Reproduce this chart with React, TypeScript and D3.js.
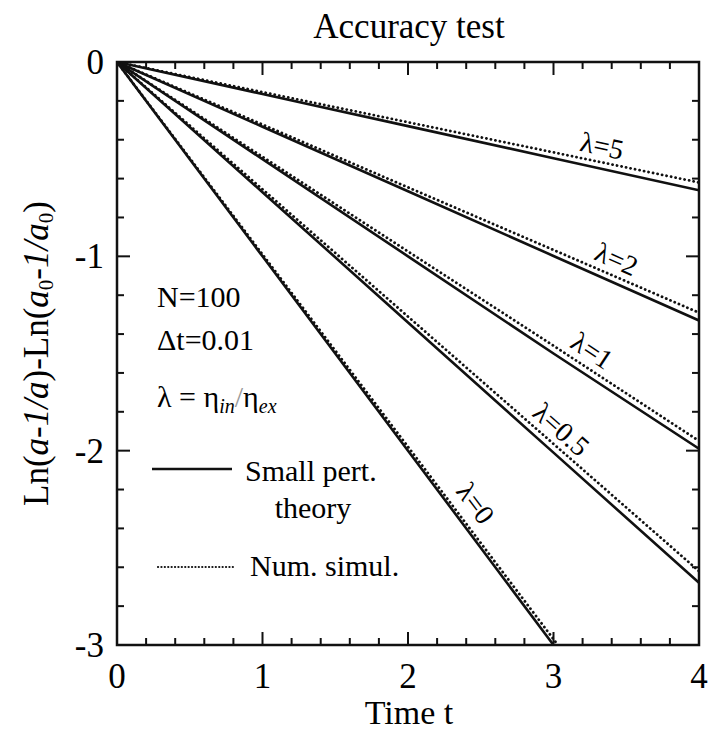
import React from "react";
import * as d3 from "d3";

// values
const lambdaLabels = ["λ=5", "λ=2", "λ=1", "λ=0.5", "λ=0"];
const timeT = [0, 1, 2, 3, 4];
const timeT0 = [0, 1, 2, 3];
const timeT0sim = [0, 1, 2, 3, 3.03];

const theory5 = [0, -0.165, -0.33, -0.495, -0.66];
const theory2 = [0, -0.333, -0.665, -0.998, -1.33];
const theory1 = [0, -0.5, -1.0, -1.5, -1.99];
const theory05 = [0, -0.67, -1.34, -2.01, -2.68];
const theory0 = [0, -1.0, -2.0, -3.0];

const simul5 = [0, -0.155, -0.31, -0.465, -0.62];
const simul2 = [0, -0.322, -0.645, -0.967, -1.29];
const simul1 = [0, -0.488, -0.975, -1.46, -1.95];
const simul05 = [0, -0.655, -1.31, -1.965, -2.62];
const simul0 = [0, -0.99, -1.98, -2.97, -3.0];

const labelT = [3.3, 3.37, 3.18, 2.95, 2.34];

const xTicks = [0, 1, 2, 3, 4];
const yTicks = [0, -1, -2, -3];

const FONT = "'Liberation Serif', 'Times New Roman', serif";

const left = 117;
const right = 699;
const top = 62;
const bottom = 645;

const x = d3.scaleLinear().domain([0, 4]).range([left, right]);
const y = d3.scaleLinear().domain([0, -3]).range([top, bottom]);

const line = d3
  .line<[number, number]>()
  .x((d) => x(d[0]))
  .y((d) => y(d[1]));

const zip = (t: number[], v: number[]) => t.map((tt, i) => [tt, v[i]] as [number, number]);

const theory = [
  zip(timeT, theory5),
  zip(timeT, theory2),
  zip(timeT, theory1),
  zip(timeT, theory05),
  zip(timeT0, theory0),
];
const simul = [
  zip(timeT, simul5),
  zip(timeT, simul2),
  zip(timeT, simul1),
  zip(timeT, simul05),
  zip(timeT0sim, simul0),
];

const minorX = d3.range(0, 4.001, 0.2).filter((v) => Math.abs(v - Math.round(v)) > 1e-6);
const minorY = d3.range(0, -3.001, -0.2).filter((v) => Math.abs(v - Math.round(v)) > 1e-6);

export default function App() {
  const major = 13;
  const minor = 7;

  return (
    <svg
      width={708}
      height={736}
      style={{ position: "absolute", left: 0, top: 0, background: "#fff" }}
      fontFamily={FONT}
    >
      <defs>
        <clipPath id="plot">
          <rect x={left} y={top} width={right - left} height={bottom - top} />
        </clipPath>
      </defs>
      <rect width={708} height={736} fill="#fff" />

      <text x={409} y={38} textAnchor="middle" fontSize={35}>
        Accuracy test
      </text>

      {/* ticks, inward on all sides */}
      <g stroke="#111" strokeWidth={2}>
        {xTicks.map((t) => (
          <g key={"xt" + t}>
            <line x1={x(t)} x2={x(t)} y1={bottom} y2={bottom - major} />
            <line x1={x(t)} x2={x(t)} y1={top} y2={top + major} />
          </g>
        ))}
        {minorX.map((t) => (
          <g key={"xm" + t}>
            <line x1={x(t)} x2={x(t)} y1={bottom} y2={bottom - minor} />
            <line x1={x(t)} x2={x(t)} y1={top} y2={top + minor} />
          </g>
        ))}
        {yTicks.map((v) => (
          <g key={"yt" + v}>
            <line x1={left} x2={left + major} y1={y(v)} y2={y(v)} />
            <line x1={right} x2={right - major} y1={y(v)} y2={y(v)} />
          </g>
        ))}
        {minorY.map((v) => (
          <g key={"ym" + v}>
            <line x1={left} x2={left + minor} y1={y(v)} y2={y(v)} />
            <line x1={right} x2={right - minor} y1={y(v)} y2={y(v)} />
          </g>
        ))}
      </g>

      <rect
        x={left}
        y={top}
        width={right - left}
        height={bottom - top}
        fill="none"
        stroke="#111"
        strokeWidth={2.5}
      />

      {/* tick labels */}
      {xTicks.map((t) => (
        <text key={"xl" + t} x={x(t)} y={688} textAnchor="middle" fontSize={35}>
          {t}
        </text>
      ))}
      {yTicks.map((v) => (
        <text key={"yl" + v} x={left - 13} y={y(v) + 12} textAnchor="end" fontSize={35}>
          {v === 0 ? "0" : "-" + Math.abs(v)}
        </text>
      ))}

      <text x={409} y={724} textAnchor="middle" fontSize={34}>
        Time t
      </text>

      <text transform={`translate(48,${(top + bottom) / 2}) rotate(-90)`} textAnchor="middle" fontSize={35}>
        Ln(<tspan fontStyle="italic">a</tspan>-<tspan fontStyle="italic">1/a</tspan>)-Ln(
        <tspan fontStyle="italic">a</tspan>
        <tspan fontSize={21} dy={5}>0</tspan>
        <tspan dy={-5}>-</tspan>
        <tspan fontStyle="italic">1/a</tspan>
        <tspan fontSize={21} dy={5}>0</tspan>
        <tspan dy={-5}>)</tspan>
      </text>

      {/* data lines */}
      <g clipPath="url(#plot)" fill="none">
        {simul.map((s, i) => (
          <path
            key={"s" + i}
            d={line(s) || ""}
            stroke="#111"
            strokeWidth={2.8}
            strokeDasharray="0.1 4.5"
            strokeLinecap="round"
          />
        ))}
        {theory.map((s, i) => (
          <path key={"t" + i} d={line(s) || ""} stroke="#111" strokeWidth={2.6} />
        ))}
      </g>

      {/* curve labels */}
      {theory.map((s, i) => {
        const a = s[0];
        const b = s[s.length - 1];
        const ang = (Math.atan2(y(b[1]) - y(a[1]), x(b[0]) - x(a[0])) * 180) / Math.PI;
        const slope = (b[1] - a[1]) / (b[0] - a[0]);
        const tx = x(labelT[i]);
        const ty = y(slope * labelT[i]);
        return (
          <text
            key={"lab" + i}
            transform={`translate(${tx},${ty}) rotate(${ang}) translate(0,-13)`}
            textAnchor="middle"
            fontSize={28}
          >
            {lambdaLabels[i]}
          </text>
        );
      })}

      {/* parameters */}
      <g fontSize={30}>
        <text x={157} y={307}>N=100</text>
        <text x={157} y={350}>Δt=0.01</text>
        <text x={157} y={407}>
          λ = η<tspan fontSize={20} fontStyle="italic" dy={6}>in</tspan>
          <tspan dy={-6} fill="#999" fontSize={30}>/</tspan>η
          <tspan fontSize={20} fontStyle="italic" dy={6}>ex</tspan>
        </text>
      </g>

      {/* legend */}
      <line x1={152} x2={232} y1={469} y2={469} stroke="#111" strokeWidth={2.6} />
      <text x={245} y={481} fontSize={30}>Small pert.</text>
      <text x={313} y={518} fontSize={30} textAnchor="middle">theory</text>
      <line
        x1={158}
        x2={235}
        y1={567}
        y2={567}
        stroke="#111"
        strokeWidth={2.2}
        strokeDasharray="0.1 3.3"
        strokeLinecap="round"
      />
      <text x={250} y={576} fontSize={30}>Num. simul.</text>
    </svg>
  );
}
